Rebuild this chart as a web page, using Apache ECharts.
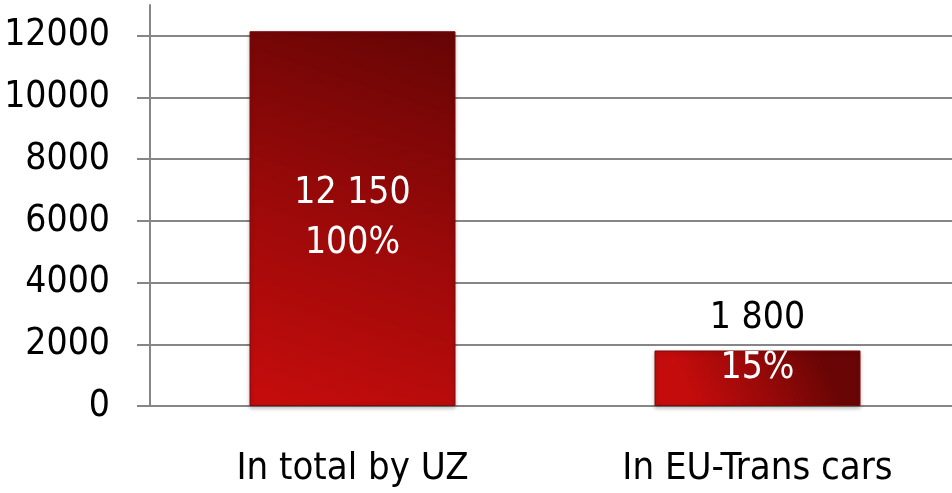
<!DOCTYPE html>
<html>
<head>
<meta charset="utf-8">
<style>
  html, body { margin: 0; padding: 0; background: #fff; }
  #chart { width: 952px; height: 493px; }
</style>
<script src="https://cdn.jsdelivr.net/npm/echarts@6/dist/echarts.min.js"></script>
</head>
<body>
<div id="chart"></div>
<script>
// data
const categories = ['In total by UZ', 'In EU-Trans cars']
const values = [12150, 1800]
const valueText = ['12 150', '1 800']
const shareText = ['100%', '15%']
const yTicks = [0, 2000, 4000, 6000, 8000, 10000, 12000]
const yMax = 13000

const font = '"DejaVu Sans Condensed", "DejaVu Sans", sans-serif'
const axisGray = '#868686'

const chart = echarts.init(document.getElementById('chart'))

chart.setOption({
  animation: false,
  grid: {
    left: 150,
    right: -8,
    top: 5,
    bottom: 87,
    outerBoundsMode: 'none',
    containLabel: false
  },
  xAxis: {
    type: 'category',
    data: categories,
    axisLine: { lineStyle: { color: axisGray, width: 2 } },
    axisTick: { length: 13, lineStyle: { color: axisGray, width: 2 } },
    axisLabel: {
      color: '#000',
      fontFamily: font,
      fontSize: 38,
      margin: 44
    }
  },
  yAxis: {
    type: 'value',
    min: 0,
    max: yMax,
    interval: 2000,
    axisLine: { show: true, lineStyle: { color: axisGray, width: 2 } },
    axisTick: {
      show: true,
      inside: false,
      length: 13,
      customValues: yTicks,
      lineStyle: { color: axisGray, width: 2 }
    },
    axisLabel: {
      color: '#000',
      fontFamily: font,
      fontSize: 37,
      margin: 40,
      formatter: v => (yTicks.indexOf(v) >= 0 ? String(v) : '')
    },
    splitLine: {
      show: true,
      lineStyle: {
        // no grid line at the top end of the axis
        color: yTicks.map(() => axisGray).concat(['rgba(0,0,0,0)']),
        width: 2
      }
    }
  },
  series: [
    {
      type: 'bar',
      barWidth: 206,
      data: values.map((v, i) => ({
        value: v,
        label: {
          // small bar: value sits above, share inside
          offset: i === 1 ? [0, -35] : [0, 0],
          formatter: i === 1 ? '{dark|' + valueText[i] + '}\n{light|' + shareText[i] + '}'
                             : '{light|' + valueText[i] + '}\n{light|' + shareText[i] + '}'
        }
      })),
      itemStyle: {
        color: new echarts.graphic.LinearGradient(0.8, 0, 0.2, 1, [
          { offset: 0, color: '#690505' },
          { offset: 0.5, color: '#9a0909' },
          { offset: 1, color: '#c40c0c' }
        ]),
        borderColor: '#7c0a0a',
        borderWidth: 1,
        shadowColor: 'rgba(0,0,0,0.25)',
        shadowBlur: 4,
        shadowOffsetY: 2
      },
      label: {
        show: true,
        position: 'inside',
        fontFamily: font,
        lineHeight: 50,
        rich: {
          light: { color: '#fff', fontFamily: font, fontSize: 37, lineHeight: 50 },
          dark: { color: '#000', fontFamily: font, fontSize: 37, lineHeight: 50 }
        }
      }
    }
  ]
})
</script>
</body>
</html>
